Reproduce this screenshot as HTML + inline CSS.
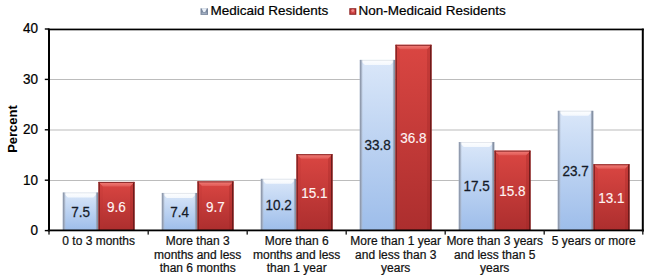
<!DOCTYPE html><html><head><meta charset="utf-8"><style>
html,body{margin:0;padding:0;background:#fff;width:651px;height:280px;overflow:hidden}
svg{display:block}text{font-family:"Liberation Sans",sans-serif;paint-order:stroke}
</style></head><body>
<svg width="651" height="280" viewBox="0 0 651 280">
<defs>
<linearGradient id="gb" x1="0" y1="0" x2="0" y2="1"><stop offset="0" stop-color="#dae7f9"/><stop offset="1" stop-color="#9dbdea"/></linearGradient>
<linearGradient id="gr" x1="0" y1="0" x2="0" y2="1"><stop offset="0" stop-color="#da4642"/><stop offset="1" stop-color="#ac2e2e"/></linearGradient>
<linearGradient id="gbl" x1="0" y1="0" x2="1" y2="0"><stop offset="0" stop-color="#8892a5"/><stop offset="0.4" stop-color="#98a3b6"/><stop offset="1" stop-color="#b4c0d2" stop-opacity="0"/></linearGradient>
<linearGradient id="gbr" x1="0" y1="0" x2="1" y2="0"><stop offset="0" stop-color="#a8b4c6" stop-opacity="0"/><stop offset="0.5" stop-color="#8e99ac"/><stop offset="1" stop-color="#7c8799"/></linearGradient>
<linearGradient id="gbt" x1="0" y1="0" x2="0" y2="1"><stop offset="0" stop-color="#fdfeff"/><stop offset="1" stop-color="#f4f8fd"/></linearGradient>
<linearGradient id="grt" x1="0" y1="0" x2="0" y2="1"><stop offset="0" stop-color="#f4807a"/><stop offset="1" stop-color="#e05a56"/></linearGradient>
</defs>
<rect width="651" height="280" fill="#fff"/>
<rect x="48.8" y="79.0" width="594.0" height="1" fill="#bcbcbc"/>
<rect x="48.8" y="129.5" width="594.0" height="1" fill="#bcbcbc"/>
<rect x="48.8" y="180.0" width="594.0" height="1" fill="#bcbcbc"/>
<rect x="62.80" y="192.45" width="35.5" height="38.15" fill="url(#gb)"/><polygon points="62.80,192.45 98.30,192.45 93.30,197.45 67.80,197.45" fill="url(#gbt)"/><rect x="62.80" y="192.45" width="35.5" height="0.9" fill="#e2e6ec"/><rect x="62.80" y="192.45" width="3.2" height="38.15" fill="url(#gbl)"/><rect x="95.30" y="192.45" width="3.0" height="38.15" fill="url(#gbr)"/>
<rect x="98.50" y="181.92" width="36.0" height="48.68" fill="url(#gr)"/><polygon points="98.50,181.92 103.00,186.42 103.00,230.6 98.50,230.6" fill="#b83030" fill-opacity="0.2"/><polygon points="134.50,181.92 130.00,186.42 130.00,230.6 134.50,230.6" fill="#9a2626" fill-opacity="0.3"/><polygon points="98.50,181.92 134.50,181.92 130.00,186.42 103.00,186.42" fill="url(#grt)"/><rect x="98.50" y="181.92" width="1.3" height="48.68" fill="#7a1e1e"/><rect x="133.00" y="181.92" width="1.5" height="48.68" fill="#6e1a1a"/><rect x="98.50" y="181.92" width="36.0" height="1.0" fill="#8a2a2a"/>
<rect x="161.80" y="192.95" width="35.5" height="37.65" fill="url(#gb)"/><polygon points="161.80,192.95 197.30,192.95 192.30,197.95 166.80,197.95" fill="url(#gbt)"/><rect x="161.80" y="192.95" width="35.5" height="0.9" fill="#e2e6ec"/><rect x="161.80" y="192.95" width="3.2" height="37.65" fill="url(#gbl)"/><rect x="194.30" y="192.95" width="3.0" height="37.65" fill="url(#gbr)"/>
<rect x="197.50" y="181.41" width="36.0" height="49.19" fill="url(#gr)"/><polygon points="197.50,181.41 202.00,185.91 202.00,230.6 197.50,230.6" fill="#b83030" fill-opacity="0.2"/><polygon points="233.50,181.41 229.00,185.91 229.00,230.6 233.50,230.6" fill="#9a2626" fill-opacity="0.3"/><polygon points="197.50,181.41 233.50,181.41 229.00,185.91 202.00,185.91" fill="url(#grt)"/><rect x="197.50" y="181.41" width="1.3" height="49.19" fill="#7a1e1e"/><rect x="232.00" y="181.41" width="1.5" height="49.19" fill="#6e1a1a"/><rect x="197.50" y="181.41" width="36.0" height="1.0" fill="#8a2a2a"/>
<rect x="260.80" y="178.84" width="35.5" height="51.76" fill="url(#gb)"/><polygon points="260.80,178.84 296.30,178.84 291.30,183.84 265.80,183.84" fill="url(#gbt)"/><rect x="260.80" y="178.84" width="35.5" height="0.9" fill="#e2e6ec"/><rect x="260.80" y="178.84" width="3.2" height="51.76" fill="url(#gbl)"/><rect x="293.30" y="178.84" width="3.0" height="51.76" fill="url(#gbr)"/>
<rect x="296.50" y="154.20" width="36.0" height="76.40" fill="url(#gr)"/><polygon points="296.50,154.20 301.00,158.70 301.00,230.6 296.50,230.6" fill="#b83030" fill-opacity="0.2"/><polygon points="332.50,154.20 328.00,158.70 328.00,230.6 332.50,230.6" fill="#9a2626" fill-opacity="0.3"/><polygon points="296.50,154.20 332.50,154.20 328.00,158.70 301.00,158.70" fill="url(#grt)"/><rect x="296.50" y="154.20" width="1.3" height="76.40" fill="#7a1e1e"/><rect x="331.00" y="154.20" width="1.5" height="76.40" fill="#6e1a1a"/><rect x="296.50" y="154.20" width="36.0" height="1.0" fill="#8a2a2a"/>
<rect x="359.80" y="59.90" width="35.5" height="170.70" fill="url(#gb)"/><polygon points="359.80,59.90 395.30,59.90 390.30,64.90 364.80,64.90" fill="url(#gbt)"/><rect x="359.80" y="59.90" width="35.5" height="0.9" fill="#e2e6ec"/><rect x="359.80" y="59.90" width="3.2" height="170.70" fill="url(#gbl)"/><rect x="392.30" y="59.90" width="3.0" height="170.70" fill="url(#gbr)"/>
<rect x="395.50" y="44.83" width="36.0" height="185.77" fill="url(#gr)"/><polygon points="395.50,44.83 400.00,49.33 400.00,230.6 395.50,230.6" fill="#b83030" fill-opacity="0.2"/><polygon points="431.50,44.83 427.00,49.33 427.00,230.6 431.50,230.6" fill="#9a2626" fill-opacity="0.3"/><polygon points="395.50,44.83 431.50,44.83 427.00,49.33 400.00,49.33" fill="url(#grt)"/><rect x="395.50" y="44.83" width="1.3" height="185.77" fill="#7a1e1e"/><rect x="430.00" y="44.83" width="1.5" height="185.77" fill="#6e1a1a"/><rect x="395.50" y="44.83" width="36.0" height="1.0" fill="#8a2a2a"/>
<rect x="458.80" y="142.05" width="35.5" height="88.55" fill="url(#gb)"/><polygon points="458.80,142.05 494.30,142.05 489.30,147.05 463.80,147.05" fill="url(#gbt)"/><rect x="458.80" y="142.05" width="35.5" height="0.9" fill="#e2e6ec"/><rect x="458.80" y="142.05" width="3.2" height="88.55" fill="url(#gbl)"/><rect x="491.30" y="142.05" width="3.0" height="88.55" fill="url(#gbr)"/>
<rect x="494.50" y="150.67" width="36.0" height="79.93" fill="url(#gr)"/><polygon points="494.50,150.67 499.00,155.17 499.00,230.6 494.50,230.6" fill="#b83030" fill-opacity="0.2"/><polygon points="530.50,150.67 526.00,155.17 526.00,230.6 530.50,230.6" fill="#9a2626" fill-opacity="0.3"/><polygon points="494.50,150.67 530.50,150.67 526.00,155.17 499.00,155.17" fill="url(#grt)"/><rect x="494.50" y="150.67" width="1.3" height="79.93" fill="#7a1e1e"/><rect x="529.00" y="150.67" width="1.5" height="79.93" fill="#6e1a1a"/><rect x="494.50" y="150.67" width="36.0" height="1.0" fill="#8a2a2a"/>
<rect x="557.80" y="110.80" width="35.5" height="119.80" fill="url(#gb)"/><polygon points="557.80,110.80 593.30,110.80 588.30,115.80 562.80,115.80" fill="url(#gbt)"/><rect x="557.80" y="110.80" width="35.5" height="0.9" fill="#e2e6ec"/><rect x="557.80" y="110.80" width="3.2" height="119.80" fill="url(#gbl)"/><rect x="590.30" y="110.80" width="3.0" height="119.80" fill="url(#gbr)"/>
<rect x="593.50" y="164.28" width="36.0" height="66.32" fill="url(#gr)"/><polygon points="593.50,164.28 598.00,168.78 598.00,230.6 593.50,230.6" fill="#b83030" fill-opacity="0.2"/><polygon points="629.50,164.28 625.00,168.78 625.00,230.6 629.50,230.6" fill="#9a2626" fill-opacity="0.3"/><polygon points="593.50,164.28 629.50,164.28 625.00,168.78 598.00,168.78" fill="url(#grt)"/><rect x="593.50" y="164.28" width="1.3" height="66.32" fill="#7a1e1e"/><rect x="628.00" y="164.28" width="1.5" height="66.32" fill="#6e1a1a"/><rect x="593.50" y="164.28" width="36.0" height="1.0" fill="#8a2a2a"/>
<rect x="47.8" y="28.6" width="596.0" height="1.7" fill="#000"/>
<rect x="641.8" y="28.6" width="2" height="203.0" fill="#000"/>
<rect x="48" y="28.6" width="2" height="203.0" fill="#000"/>
<rect x="47.8" y="229.5" width="596.0" height="1.8" fill="#000"/>
<rect x="44.8" y="229.90" width="4" height="1.4" fill="#000"/>
<rect x="44.8" y="179.50" width="4" height="1.4" fill="#000"/>
<rect x="44.8" y="129.10" width="4" height="1.4" fill="#000"/>
<rect x="44.8" y="78.70" width="4" height="1.4" fill="#000"/>
<rect x="44.8" y="28.30" width="4" height="1.4" fill="#000"/>
<rect x="48.30" y="230.6" width="1.4" height="4" fill="#222"/>
<rect x="147.50" y="230.6" width="1.4" height="4" fill="#222"/>
<rect x="246.50" y="230.6" width="1.4" height="4" fill="#222"/>
<rect x="345.50" y="230.6" width="1.4" height="4" fill="#222"/>
<rect x="444.50" y="230.6" width="1.4" height="4" fill="#222"/>
<rect x="543.50" y="230.6" width="1.4" height="4" fill="#222"/>
<rect x="642.10" y="230.6" width="1.4" height="4" fill="#222"/>
<text transform="translate(38,234.95) scale(1,1.09)" font-size="13.5" text-anchor="end" fill="#000" stroke="#000" stroke-width="0.22">0</text>
<text transform="translate(38,184.55) scale(1,1.09)" font-size="13.5" text-anchor="end" fill="#000" stroke="#000" stroke-width="0.22">10</text>
<text transform="translate(38,134.15) scale(1,1.09)" font-size="13.5" text-anchor="end" fill="#000" stroke="#000" stroke-width="0.22">20</text>
<text transform="translate(38,83.75) scale(1,1.09)" font-size="13.5" text-anchor="end" fill="#000" stroke="#000" stroke-width="0.22">30</text>
<text transform="translate(38,33.35) scale(1,1.09)" font-size="13.5" text-anchor="end" fill="#000" stroke="#000" stroke-width="0.22">40</text>
<text transform="translate(17.0,129) rotate(-90)" font-size="13" font-weight="bold" text-anchor="middle" fill="#000">Percent</text>
<rect x="200.5" y="8.3" width="7.5" height="6.6" fill="#7a889e"/><polygon points="201.6,8.3 206.9,8.3 205.2,12.0 203.3,12.0" fill="#eaf0f8"/><rect x="201.6" y="12.5" width="5.3" height="1.6" fill="#a0adc0"/>
<text x="210.5" y="15.0" font-size="13.5" fill="#000" stroke="#000" stroke-width="0.22">Medicaid Residents</text>
<rect x="349.3" y="8.2" width="7.0" height="6.6" fill="#8e2020"/><rect x="350.4" y="9.3" width="4.8" height="4.4" fill="#d24848"/><circle cx="352.8" cy="10.6" r="1.4" fill="#ef8a8a"/>
<text x="358.6" y="15.0" font-size="13.5" fill="#000" stroke="#000" stroke-width="0.22">Non-Medicaid Residents</text>
<text transform="translate(80.55,216.60) scale(1,1.08)" font-size="13.5" text-anchor="middle" fill="#141a26" stroke="#141a26" stroke-width="0.25">7.5</text>
<text transform="translate(116.30,211.91) scale(1,1.08)" font-size="13.5" text-anchor="middle" fill="#fff4f4" stroke="#fff4f4" stroke-width="0.12">9.6</text>
<text transform="translate(179.55,216.85) scale(1,1.08)" font-size="13.5" text-anchor="middle" fill="#141a26" stroke="#141a26" stroke-width="0.25">7.4</text>
<text transform="translate(215.30,211.66) scale(1,1.08)" font-size="13.5" text-anchor="middle" fill="#fff4f4" stroke="#fff4f4" stroke-width="0.12">9.7</text>
<text transform="translate(278.55,209.80) scale(1,1.08)" font-size="13.5" text-anchor="middle" fill="#141a26" stroke="#141a26" stroke-width="0.25">10.2</text>
<text transform="translate(314.30,198.05) scale(1,1.08)" font-size="13.5" text-anchor="middle" fill="#fff4f4" stroke="#fff4f4" stroke-width="0.12">15.1</text>
<text transform="translate(377.55,150.32) scale(1,1.08)" font-size="13.5" text-anchor="middle" fill="#141a26" stroke="#141a26" stroke-width="0.25">33.8</text>
<text transform="translate(413.30,143.36) scale(1,1.08)" font-size="13.5" text-anchor="middle" fill="#fff4f4" stroke="#fff4f4" stroke-width="0.12">36.8</text>
<text transform="translate(476.55,191.40) scale(1,1.08)" font-size="13.5" text-anchor="middle" fill="#141a26" stroke="#141a26" stroke-width="0.25">17.5</text>
<text transform="translate(512.30,196.28) scale(1,1.08)" font-size="13.5" text-anchor="middle" fill="#fff4f4" stroke="#fff4f4" stroke-width="0.12">15.8</text>
<text transform="translate(575.55,175.78) scale(1,1.08)" font-size="13.5" text-anchor="middle" fill="#141a26" stroke="#141a26" stroke-width="0.25">23.7</text>
<text transform="translate(611.30,203.09) scale(1,1.08)" font-size="13.5" text-anchor="middle" fill="#fff4f4" stroke="#fff4f4" stroke-width="0.12">13.1</text>
<text transform="translate(98.70,244.6) scale(1,1.04)" font-size="12" text-anchor="middle" fill="#111" stroke="#111" stroke-width="0.22">0 to 3 months</text>
<text transform="translate(197.70,244.6) scale(1,1.04)" font-size="12" text-anchor="middle" fill="#111" stroke="#111" stroke-width="0.22">More than 3</text>
<text transform="translate(197.70,258.9) scale(1,1.04)" font-size="12" text-anchor="middle" fill="#111" stroke="#111" stroke-width="0.22">months and less</text>
<text transform="translate(197.70,272.2) scale(1,1.04)" font-size="12" text-anchor="middle" fill="#111" stroke="#111" stroke-width="0.22">than 6 months</text>
<text transform="translate(296.70,244.6) scale(1,1.04)" font-size="12" text-anchor="middle" fill="#111" stroke="#111" stroke-width="0.22">More than 6</text>
<text transform="translate(296.70,258.9) scale(1,1.04)" font-size="12" text-anchor="middle" fill="#111" stroke="#111" stroke-width="0.22">months and less</text>
<text transform="translate(296.70,272.2) scale(1,1.04)" font-size="12" text-anchor="middle" fill="#111" stroke="#111" stroke-width="0.22">than 1 year</text>
<text transform="translate(395.70,244.6) scale(1,1.04)" font-size="12" text-anchor="middle" fill="#111" stroke="#111" stroke-width="0.22">More than 1 year</text>
<text transform="translate(395.70,258.9) scale(1,1.04)" font-size="12" text-anchor="middle" fill="#111" stroke="#111" stroke-width="0.22">and less than 3</text>
<text transform="translate(395.70,272.2) scale(1,1.04)" font-size="12" text-anchor="middle" fill="#111" stroke="#111" stroke-width="0.22">years</text>
<text transform="translate(494.70,244.6) scale(1,1.04)" font-size="12" text-anchor="middle" fill="#111" stroke="#111" stroke-width="0.22">More than 3 years</text>
<text transform="translate(494.70,258.9) scale(1,1.04)" font-size="12" text-anchor="middle" fill="#111" stroke="#111" stroke-width="0.22">and less than 5</text>
<text transform="translate(494.70,272.2) scale(1,1.04)" font-size="12" text-anchor="middle" fill="#111" stroke="#111" stroke-width="0.22">years</text>
<text transform="translate(593.70,244.6) scale(1,1.04)" font-size="12" text-anchor="middle" fill="#111" stroke="#111" stroke-width="0.22">5 years or more</text>
</svg></body></html>
